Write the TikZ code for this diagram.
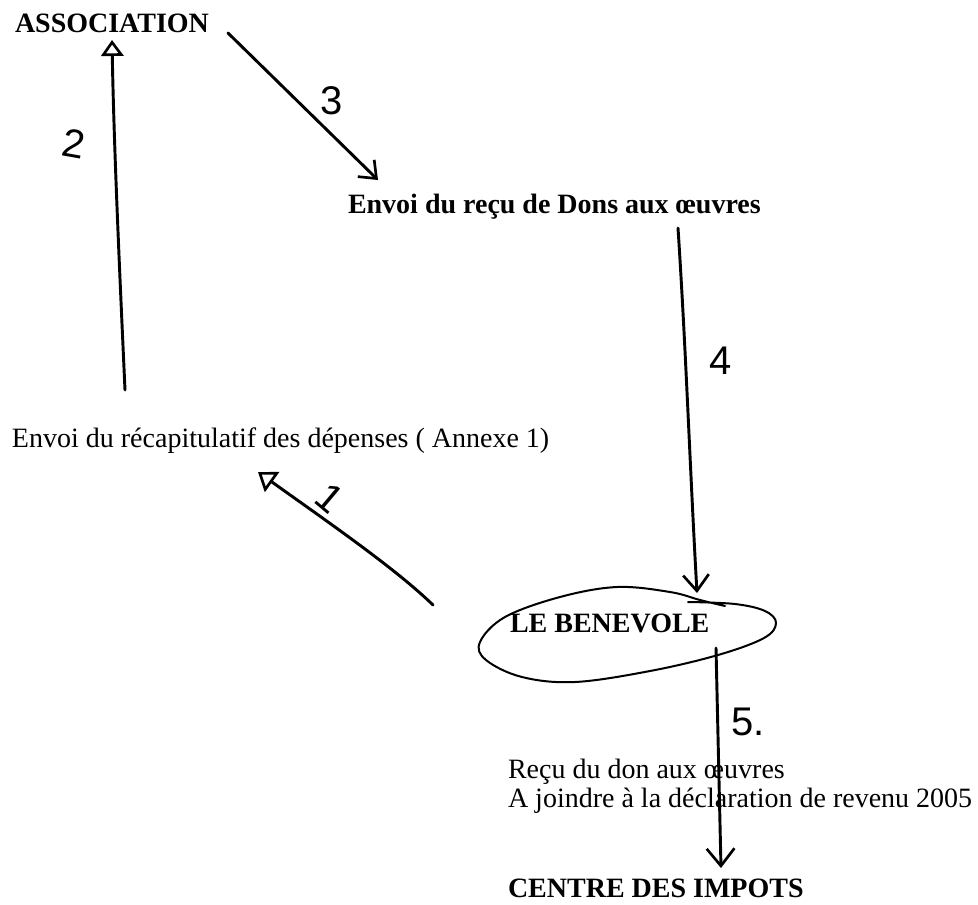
\documentclass[tikz,border=0pt]{standalone}
\usepackage{fontspec}
\setmainfont{Liberation Serif}
\newfontfamily\handfont{Liberation Sans}
\usetikzlibrary{arrows.meta}
\begin{document}
\begin{tikzpicture}[x=0.75pt,y=-0.75pt,
  every node/.style={inner sep=0pt,outer sep=0pt},
  txt/.style={anchor=base west,font=\fontsize{21}{24}\selectfont},
  btxt/.style={anchor=base west,font=\fontsize{21}{24}\selectfont\bfseries},
  hand/.style={font=\handfont\fontsize{30}{30}\selectfont},
  pen/.style={line width=2.2pt,line cap=round,line join=round},
  thinpen/.style={line width=1.5pt,line cap=round,line join=round},
  barb/.style={-{Straight Barb[length=#1,width=1.6*#1,line width=2pt]}},
  tri/.style={-{Triangle[open,length=#1,width=1.4*#1,line width=2pt]}}]
\useasboundingbox (0,0) rectangle (978,904);
\fill[white] (0,0) rectangle (978,904);

% text nodes
\node[btxt] (assoc) at (15,32) {ASSOCIATION};
\node[btxt] (recu) at (348,213) {Envoi du reçu de Dons aux œuvres};
\node[txt] (recap) at (12,447) {Envoi du récapitulatif des dépenses ( Annexe 1)};
\node[btxt] (benev) at (510,632) {LE BENEVOLE};
\node[txt] (recudon) at (508,778) {Reçu du don aux œuvres};
\node[txt] (joindre) at (508,807) {A joindre à la déclaration de revenu 2005};
\node[btxt] (impots) at (508,897) {CENTRE DES IMPOTS};

% hand-drawn loop around LE BENEVOLE (open ends overlapping at top right)
\draw[thinpen] plot[smooth, tension=0.6] coordinates {
  (688,602) (735,604) (765,611) (776,623) (764,638) (718,655)
  (650,671) (575,682) (522,677) (486,660) (480,642) (505,617)
  (560,597) (617,587) (670,592) (700,600) (725,606)};

% connector end points
\coordinate (a1s) at (433,605);
\coordinate (a1e) at (258,472);
\coordinate (a2s) at (125,390);
\coordinate (a2e) at (112,40);
\coordinate (a3s) at (228,33);
\coordinate (a3e) at (378,180);
\coordinate (a4s) at (678,228);
\coordinate (a4e) at (697,593);
\coordinate (a5s) at (716,648);
\coordinate (a5e) at (721,868);

% connectors
\draw[pen,tri=13pt] (a1s) .. controls (395,568) and (325,520) .. (a1e);
\draw[pen,tri=12pt] (a2s) .. controls (120,280) and (114,150) .. (a2e);
\draw[pen,barb=11pt] (a3s) -- (a3e);
\draw[pen,barb=12pt] (a4s) .. controls (686,350) and (690,470) .. (a4e);
\draw[pen,barb=13pt] (a5s) -- (a5e);

% handwritten step numbers
\node[hand,rotate=-40] (n1) at (330,498) {1};
\node[hand,rotate=-10] (n2) at (74,144) {2};
\node[hand] (n3) at (332,101) {3};
\node[hand] (n4) at (721,361) {4};
\node[hand] (n5) at (748,722) {5.};
\end{tikzpicture}
\end{document}
